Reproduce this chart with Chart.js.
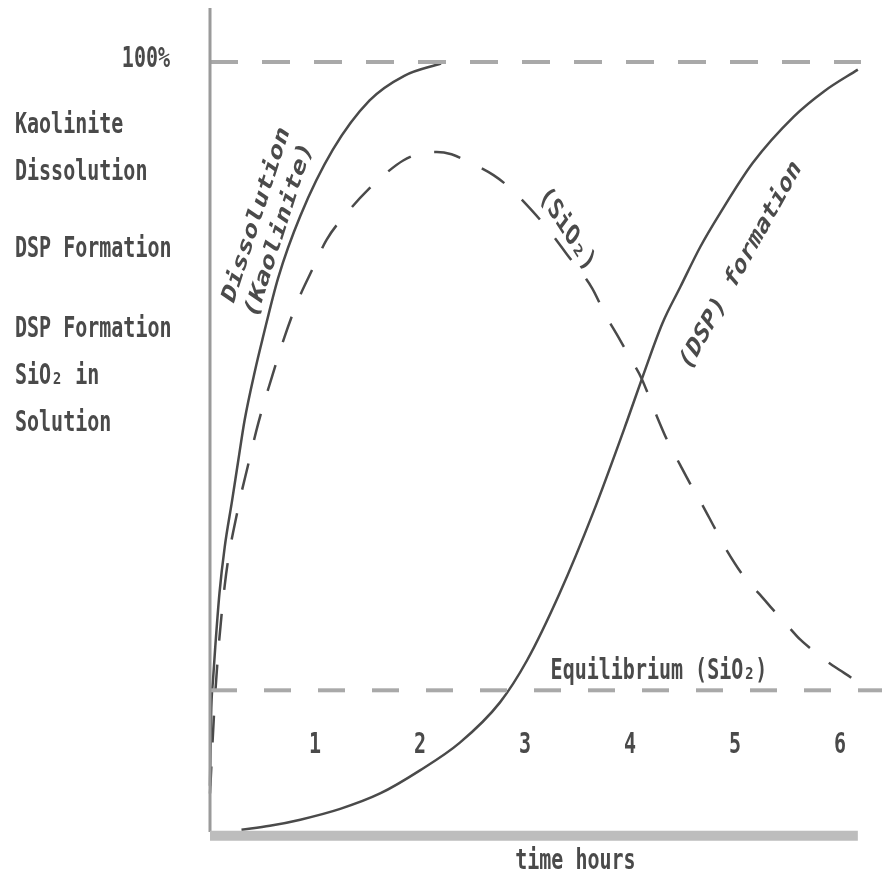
<!DOCTYPE html>
<html><head><meta charset="utf-8">
<script src="https://cdn.jsdelivr.net/npm/chart.js@4/dist/chart.umd.min.js"></script>
<style>html,body{margin:0;padding:0;background:#fff}canvas{display:block;filter:blur(0.5px)}</style>
</head><body>
<canvas id="c" width="882" height="879"></canvas>
<script>
// ---- data (time in hours, amount in % of full reaction) ----
const dissolutionX = [0.0, 0.01, 0.03, 0.05, 0.09, 0.14, 0.21, 0.27, 0.33, 0.43, 0.5, 0.65, 0.86, 1.17, 1.52, 1.85, 2.2];
const dissolutionY = [6, 15, 20, 24, 31, 37, 43, 48.3, 53.5, 60, 64, 72, 80, 88.6, 95, 98.2, 99.8];

const sio2X = [0.0, 0.05, 0.14, 0.27, 0.36, 0.46, 0.59, 0.71, 0.84, 0.98, 1.11, 1.33, 1.52, 1.69, 1.84, 2.0, 2.16, 2.3, 2.45, 2.7, 2.86, 2.95, 3.2, 3.4, 3.64, 3.76, 3.88, 4.0, 4.11, 4.24, 4.35, 4.48, 4.57, 4.70, 4.79, 4.92, 5.11, 5.24, 5.36, 5.50, 5.62, 5.74, 5.90, 6.0, 6.12, 6.19];
const sio2Y = [5, 18, 32, 42.2, 47.5, 53.1, 59.1, 64.3, 69.1, 73.2, 76.9, 80.8, 83.6, 85.7, 87.2, 88.1, 88.3, 88.0, 87.1, 85.3, 83.6, 82.4, 78.6, 75, 70.6, 67.3, 64.5, 61.6, 58.9, 54.5, 51, 47.6, 45.3, 42.2, 39.9, 36.6, 32.7, 30.8, 28.9, 26.8, 25.0, 23.6, 21.9, 21.0, 19.9, 19.0];

const dspX = [0.3, 0.57, 0.86, 1.24, 1.62, 2.0, 2.38, 2.76, 3.02, 3.33, 3.65, 3.97, 4.12, 4.31, 4.48, 4.67, 4.86, 5.17, 5.56, 5.85, 6.17];
const dspY = [0.3, 0.8, 1.6, 3.0, 5.0, 8.0, 11.6, 16.8, 22.3, 31.0, 41.5, 53.3, 59.1, 66.1, 70.8, 76, 80.4, 86.9, 92.9, 96.2, 99];

const fullLevel = 100;          // 100% line
const equilibriumLevel = 18.4;  // Equilibrium [SiO2]
const timeAxisEnd = 6.17;
const xMax = 6.4;
const yMax = 107;

const xTickValues = [1, 2, 3, 4, 5, 6];
const xTickLabels = ['1', '2', '3', '4', '5', '6'];
const tickLabelLevel = 11.2;

const sideLabelTexts = ['100%', 'Kaolinite', 'Dissolution', 'DSP Formation', 'DSP Formation', 'SiO₂ in', 'Solution'];
const sideLabelLevels = [100.3, 91.8, 85.7, 75.6, 65.2, 59.1, 53.0];

const xTitle = 'time hours';
const xTitleAt = 3.48;
const curveLabelTexts = [['Dissolution', '(Kaolinite)'], ['(SiO₂)'], ['(DSP) formation'], ['Equilibrium (SiO₂)']];
const curveLabelX = [0.552, 3.40, 5.057, 4.276];
const curveLabelY = [79.1, 78.2, 73.5, 20.9];
const curveLabelAngle = [-72, 57.4, -61, 0];

function pts(xs, ys) { return xs.map((x, i) => ({ x: x, y: ys[i] })); }

// ---- styles ----
const INK = '#4a4a4a';
const LIGHT = '#a9a9a9';
const STRETCH = 1.45;
const FONT = 'bold 20px "DejaVu Sans Mono", "Liberation Mono", monospace';

function stretchedText(ctx, lines, cx, cy, angleDeg, align, lineGap) {
  const a = angleDeg * Math.PI / 180;
  const t = Math.atan2(Math.sin(a) / STRETCH, Math.cos(a));
  ctx.save();
  ctx.translate(cx, cy);
  ctx.scale(1, STRETCH);
  ctx.rotate(t);
  ctx.font = FONT;
  ctx.fillStyle = INK;
  ctx.textAlign = align || 'center';
  ctx.textBaseline = 'middle';
  const n = lines.length;
  lines.forEach((s, i) => {
    ctx.fillText(s, 0, (i - (n - 1) / 2) * (lineGap || 25));
  });
  ctx.restore();
}

const textPlugin = {
  id: 'texts',
  afterDatasetsDraw(chart) {
    const ctx = chart.ctx;
    const xs = chart.scales.x, ys = chart.scales.y;
    const left = chart.chartArea.left;
    sideLabelTexts.forEach((s, i) => {
      if (i === 0) stretchedText(ctx, [s], left - 40, ys.getPixelForValue(sideLabelLevels[i]), 0, 'right');
      else stretchedText(ctx, [s], left - 195, ys.getPixelForValue(sideLabelLevels[i]), 0, 'left');
    });
    xTickValues.forEach((v, i) => {
      stretchedText(ctx, [xTickLabels[i]], xs.getPixelForValue(v), ys.getPixelForValue(tickLabelLevel), 0, 'center');
    });
    curveLabelTexts.forEach((lines, i) => {
      stretchedText(ctx, lines, xs.getPixelForValue(curveLabelX[i]), ys.getPixelForValue(curveLabelY[i]), curveLabelAngle[i], 'center', 25);
    });
    stretchedText(ctx, [xTitle], xs.getPixelForValue(xTitleAt), ys.getPixelForValue(0) + 29, 0, 'center');
  }
};

const common = { showLine: true, pointRadius: 0, pointHoverRadius: 0, clip: false, fill: false };

new Chart(document.getElementById('c'), {
  type: 'scatter',
  data: {
    datasets: [
      Object.assign({}, common, { label: 'x axis', data: [{ x: 0, y: -0.5 }, { x: timeAxisEnd, y: -0.5 }], borderColor: '#bdbdbd', borderWidth: 10, tension: 0 }),
      Object.assign({}, common, { label: 'y axis', data: [{ x: 0, y: 0 }, { x: 0, y: yMax }], borderColor: '#9a9a9a', borderWidth: 3, tension: 0 }),
      Object.assign({}, common, { label: '100%', data: [{ x: 0, y: fullLevel }, { x: 6.2, y: fullLevel }], borderColor: LIGHT, borderWidth: 4, borderDash: [28, 24], tension: 0 }),
      Object.assign({}, common, { label: 'Equilibrium', data: [{ x: 0, y: equilibriumLevel }, { x: xMax, y: equilibriumLevel }], borderColor: LIGHT, borderWidth: 4, borderDash: [27, 27], tension: 0 }),
      Object.assign({}, common, { label: 'Kaolinite dissolution', data: pts(dissolutionX, dissolutionY), borderColor: INK, borderWidth: 2.5, cubicInterpolationMode: 'monotone' }),
      Object.assign({}, common, { label: '[SiO2]', data: pts(sio2X, sio2Y), borderColor: INK, borderWidth: 2.5, borderDash: [27, 24], cubicInterpolationMode: 'monotone' }),
      Object.assign({}, common, { label: '[DSP] formation', data: pts(dspX, dspY), borderColor: INK, borderWidth: 2.5, cubicInterpolationMode: 'monotone' })
    ]
  },
  options: {
    responsive: false,
    animation: false,
    layout: { padding: { left: 210, top: 8, right: 0, bottom: 47 } },
    plugins: { legend: { display: false }, tooltip: { enabled: false } },
    scales: {
      x: { type: 'linear', min: 0, max: xMax, display: false },
      y: { type: 'linear', min: 0, max: yMax, display: false }
    }
  },
  plugins: [textPlugin]
});
</script>
</body></html>
